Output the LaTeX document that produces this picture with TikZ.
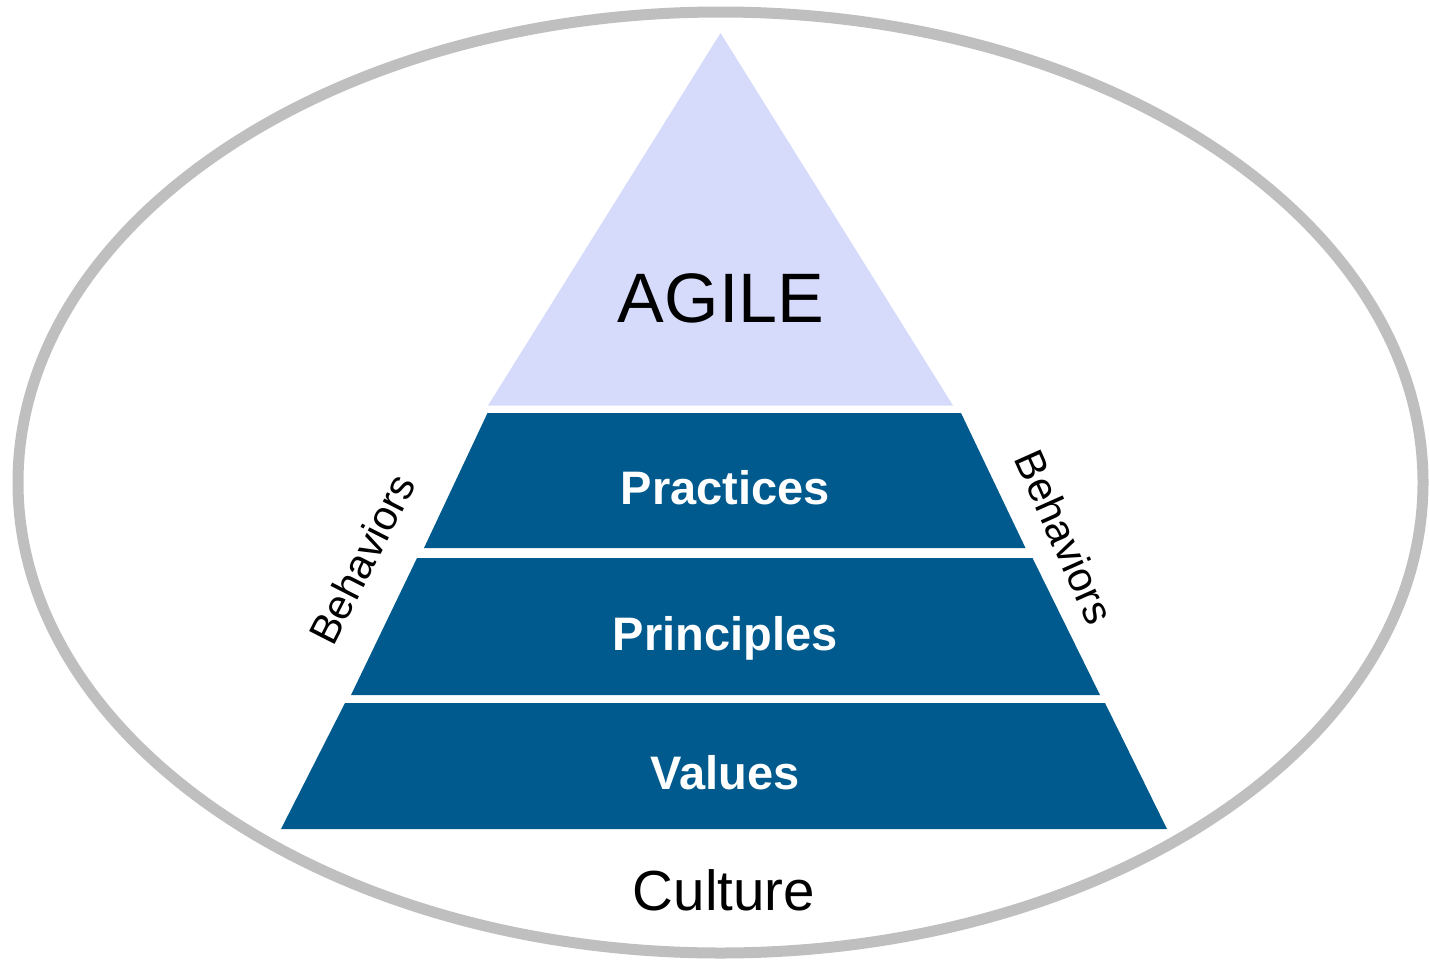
\documentclass[tikz,border=0pt]{standalone}
\usepackage{fontspec}
\setmainfont{Liberation Sans}
\definecolor{lilac}{HTML}{D7DBFB}
\definecolor{deepblue}{HTML}{005A8D}
\definecolor{ringgray}{HTML}{BFBFBF}
\tikzset{
  layer/.style={fill=deepblue, draw=none},
  toplayer/.style={fill=lilac, draw=none},
  layerlabel/.style={text=white, font=\fontsize{47}{50}\selectfont\bfseries, inner sep=0pt, anchor=base},
  sidelabel/.style={font=\fontsize{41.5}{44}\selectfont, inner sep=0pt, anchor=center},
}
\begin{document}
\begin{tikzpicture}[x=1pt,y=-1pt]
\useasboundingbox (0,0) rectangle (1429,964);
% culture ring
\draw[ringgray, line width=11pt] (720.5,482.5) ellipse [x radius=702.5, y radius=470.5];
% pyramid layers
\path[toplayer] (720.5,33) -- (953,405.5) -- (488,405.5) -- cycle;
\path[layer] (487.5,413) -- (961,413) -- (1025.5,548) -- (424,548) -- cycle;
\path[layer] (417,558) -- (1032.5,558) -- (1100,695) -- (351,695) -- cycle;
\path[layer] (345,703) -- (1105,703) -- (1167,829) -- (281,829) -- cycle;
% labels
\node[inner sep=0pt, anchor=base, font=\fontsize{70}{74}\selectfont] (agile) at (721,322) {AGILE};
\node[layerlabel] (practices) at (725.5,504) {Practices};
\node[layerlabel] (principles) at (725,650) {Principles};
\node[layerlabel] (values) at (725,789) {Values};
\node[inner sep=0pt, anchor=base, font=\fontsize{56.5}{60}\selectfont] (culture) at (724,910) {Culture};
\node[sidelabel, rotate=63] (behl) at (362,559) {Behaviors};
\node[sidelabel, rotate=-66] (behr) at (1065,537) {Behaviors};
\end{tikzpicture}
\end{document}
